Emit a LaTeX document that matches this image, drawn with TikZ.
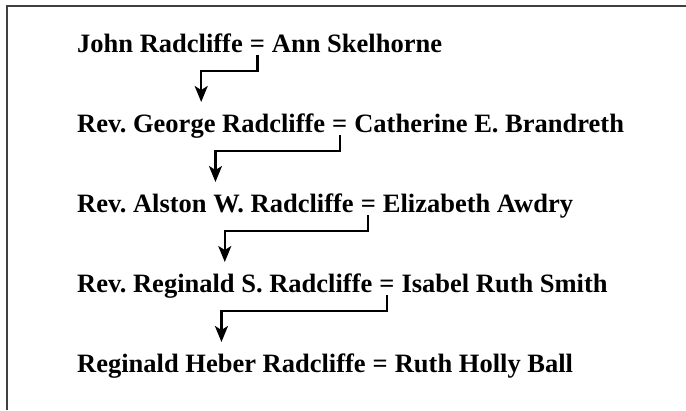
\documentclass[tikz,border=0pt]{standalone}
\usepackage{fontspec}
\setmainfont{Liberation Serif}
\usetikzlibrary{arrows.meta}
\frenchspacing

\begin{document}
\begin{tikzpicture}[x=1pt,y=1pt,
	person/.style={inner sep=0pt,anchor=base west,font=\fontsize{26.5}{30}\selectfont\bfseries},
	descent/.style={line width=2.2pt,-{Stealth[length=16pt,width=13pt,inset=4pt]}},
	frameline/.style={line width=1.6pt,black!75}]
				\useasboundingbox (0,0) rectangle (686,-410);
				\draw[frameline] (686,-6) -- (7,-6) -- (7,-410);
				\node[person] (h1) at (77,-52) {John Radcliffe};
				\node[person] (e1) at (h1.base east) {\null~=~\null};
				\node[person] (w1) at (e1.base east) {Ann Skelhorne};
				\node[person] (h2) at (77,-132) {Rev. George Radcliffe};
				\node[person] (e2) at (h2.base east) {\null~=~\null};
				\node[person] (w2) at (e2.base east) {Catherine E. Brandreth};
				\node[person] (h3) at (77,-212) {Rev. Alston W. Radcliffe};
				\node[person] (e3) at (h3.base east) {\null~=~\null};
				\node[person] (w3) at (e3.base east) {Elizabeth Awdry};
				\node[person] (h4) at (77,-292) {Rev. Reginald S. Radcliffe};
				\node[person] (e4) at (h4.base east) {\null~=~\null};
				\node[person] (w4) at (e4.base east) {Isabel Ruth Smith};
				\node[person] (h5) at (77,-372) {Reginald Heber Radcliffe};
				\node[person] (e5) at (h5.base east) {\null~=~\null};
				\node[person] (w5) at (e5.base east) {Ruth Holly Ball};
				\draw[descent] ([yshift=-3pt]e1.base) -- ++(0,-16) -| ([yshift=30pt]h2.base);
				\draw[descent] ([yshift=-3pt]e2.base) -- ++(0,-16) -| ([yshift=30pt]h3.base);
				\draw[descent] ([yshift=-3pt]e3.base) -- ++(0,-16) -| ([yshift=30pt]h4.base);
				\draw[descent] ([yshift=-3pt]e4.base) -- ++(0,-16) -| ([yshift=30pt]h5.base);
\end{tikzpicture}
\end{document}
